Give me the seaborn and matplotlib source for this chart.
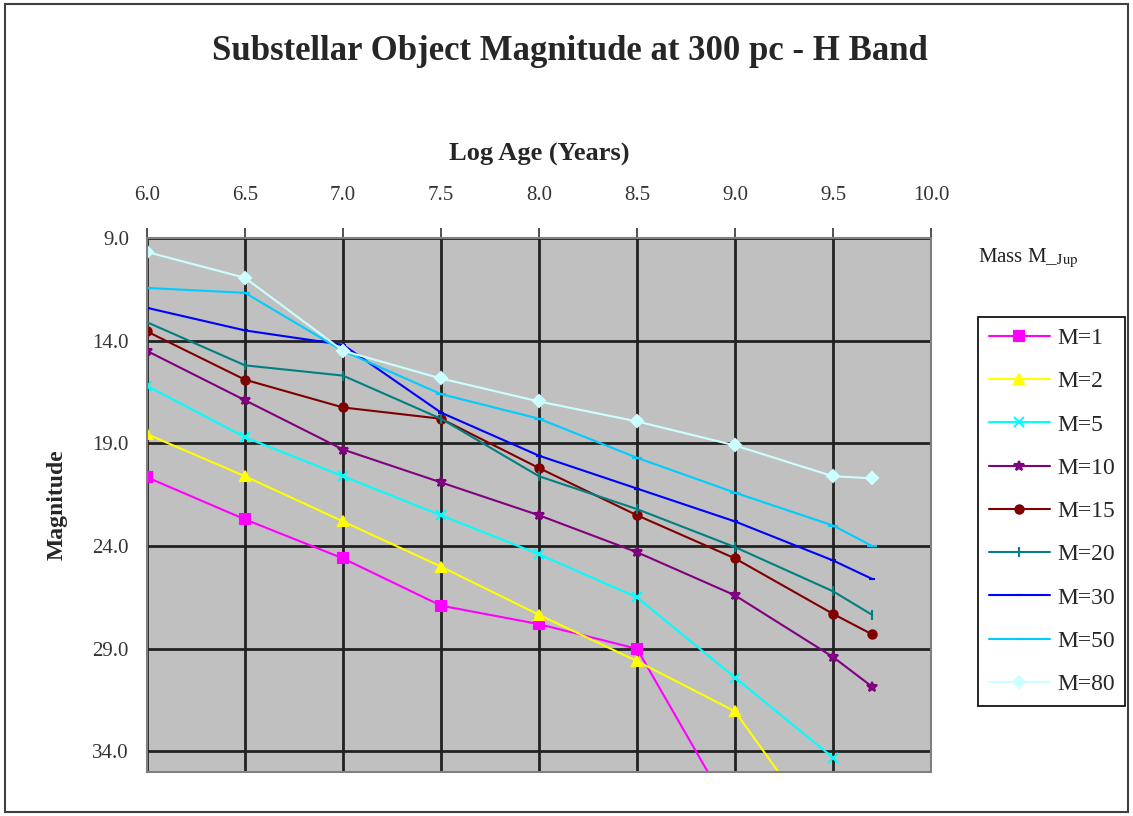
import numpy as np
import pandas as pd
import matplotlib
matplotlib.use('Agg')
import matplotlib.pyplot as plt
import seaborn as sns
from matplotlib.patches import Rectangle

# Log age grid (years)
log_age = [6.0, 6.5, 7.0, 7.5, 8.0, 8.5, 9.0, 9.5, 9.7]

# H band magnitude at 300 pc, one list per mass (M_Jup); nan = not plotted
m1 = [20.65, 22.7, 24.6, 26.9, 27.8, 29.0, 37.3, np.nan, np.nan]
m2 = [18.55, 20.6, 22.8, 25.0, 27.35, 29.6, 32.05, 38.7, np.nan]
m5 = [16.2, 18.7, 20.6, 22.5, 24.4, 26.5, 30.4, 34.3, np.nan]
m10 = [14.5, 16.9, 19.3, 20.9, 22.5, 24.3, 26.4, 29.4, 30.85]
m15 = [13.55, 15.9, 17.25, 17.8, 20.2, 22.5, 24.6, 27.3, 28.3]
m20 = [13.1, 15.2, 15.7, 17.8, 20.6, 22.2, 24.05, 26.2, 27.35]
m30 = [12.4, 13.5, 14.2, 17.5, 19.6, 21.2, 22.8, 24.7, 25.6]
m50 = [11.43, 11.67, 14.5, 16.6, 17.8, 19.7, 21.4, 23.0, 24.0]
m80 = [9.68, 10.94, 14.49, 15.84, 16.96, 17.93, 19.1, 20.6, 20.7]

labels = ['M=1', 'M=2', 'M=5', 'M=10', 'M=15', 'M=20', 'M=30', 'M=50', 'M=80']
series = [m1, m2, m5, m10, m15, m20, m30, m50, m80]
colors = ['#FF00FF', '#FFFF00', '#00FFFF', '#800080', '#800000',
          '#008080', '#0000FF', '#00CCFF', '#CCFFFF']
markers = ['s', '^', 'x', '*', 'o', '|', '_', '_', 'D']
msizes = [7, 7, 7, 7, 6, 7, 5, 7, 6]

x_ticks = [6.0, 6.5, 7.0, 7.5, 8.0, 8.5, 9.0, 9.5, 10.0]
y_ticks = [9.0, 14.0, 19.0, 24.0, 29.0, 34.0]

sns.set_style('white')
plt.rcParams['font.family'] = ['Liberation Serif', 'DejaVu Serif']
plt.rcParams['mathtext.fontset'] = 'stix'

fig = plt.figure(figsize=(11.33, 8.16), dpi=100)
ax = fig.add_axes([147 / 1133, 1 - 772 / 816, (931 - 147) / 1133, (772 - 238) / 816])
ax.set_facecolor('#C0C0C0')

for lab, vals, c, mk, ms in zip(labels, series, colors, markers, msizes):
    d = pd.DataFrame({'age': log_age, 'mag': vals}).dropna()
    sns.lineplot(data=d, x='age', y='mag', ax=ax, color=c, marker=mk,
                 markersize=ms, markeredgecolor=c, markeredgewidth=1.5,
                 linewidth=1.5, label=lab)

ax.set_xlim(6.0, 10.0)
ax.set_ylim(35.0, 9.0)
ax.set_xticks(x_ticks)
ax.set_xticklabels(['%.1f' % v for v in x_ticks])
ax.set_yticks(y_ticks)
ax.set_yticklabels(['%.1f' % v for v in y_ticks])
ax.xaxis.tick_top()
ax.xaxis.set_label_position('top')
ax.grid(True, color='#222222', linewidth=2.0)
ax.set_axisbelow(True)
ax.tick_params(axis='both', direction='out', length=7, width=1.2,
               color='#333333', labelsize=15, labelcolor='#333333', pad=6)
ax.tick_params(axis='x', pad=17)
for sp in ax.spines.values():
    sp.set_color('#808080')
    sp.set_linewidth(1.5)

ax.set_xlabel('Log Age (Years)', fontsize=19, fontweight='bold', labelpad=18)
ax.set_ylabel('Magnitude', fontsize=17, fontweight='bold', labelpad=18)
fig.text(0.503, 1 - 52 / 816, 'Substellar Object Magnitude at 300 pc - H Band',
         ha='center', va='center', fontsize=25, fontweight='bold')

fig.text(978 / 1133, 1 - 258 / 816, r'Mass M_$_{\mathrm{Jup}}$',
         ha='left', va='center', fontsize=15, color='#222222')

leg = ax.legend(loc='upper left', bbox_to_anchor=(978 / 1133, 1 - 317 / 816),
                bbox_transform=fig.transFigure, borderaxespad=0, frameon=True,
                fancybox=False, framealpha=1, edgecolor='black', fontsize=17,
                labelspacing=0.92, handlelength=2.6, handletextpad=0.3,
                borderpad=0.45)
leg.get_frame().set_linewidth(1.2)

fig.patches.append(Rectangle((0.004, 0.005), 0.992, 0.99, transform=fig.transFigure,
                             fill=False, edgecolor='#404040', linewidth=1.5))

fig.savefig('out.png', dpi=100)
